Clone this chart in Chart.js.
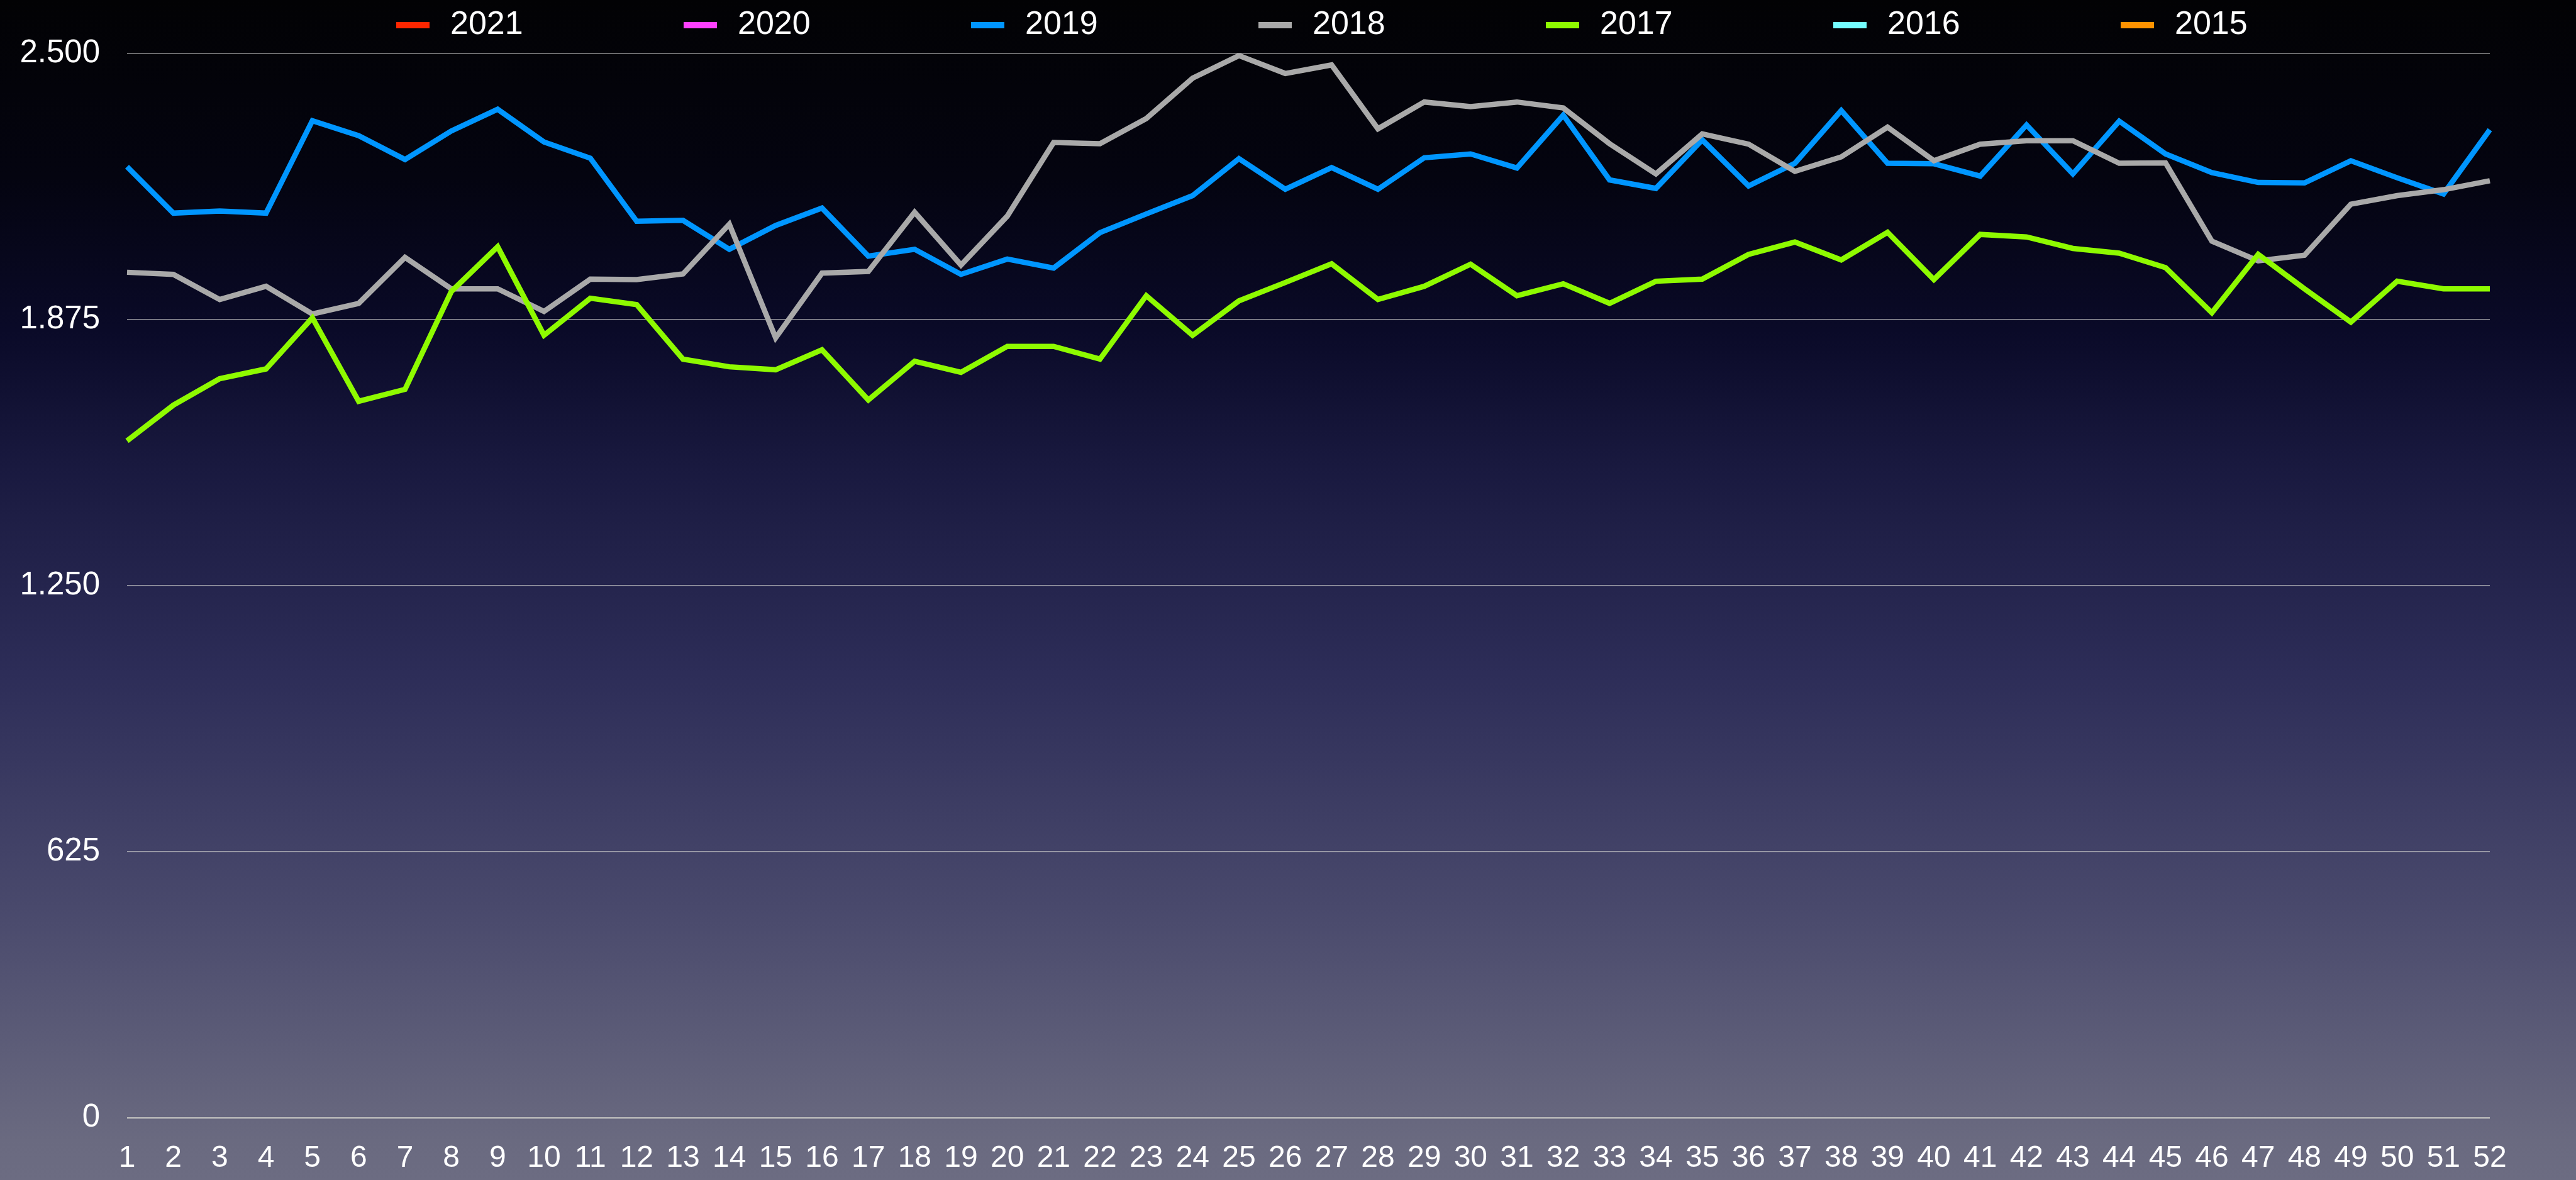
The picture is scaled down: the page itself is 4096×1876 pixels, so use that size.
<!DOCTYPE html>
<html><head><meta charset="utf-8">
<script src="https://cdn.jsdelivr.net/npm/chart.js@4/dist/chart.umd.min.js"></script>
<style>html,body{margin:0;padding:0;background:#000;overflow:hidden}canvas{display:block}</style>
</head><body>
<canvas id="c" width="4096" height="1876"></canvas>
<script>
const weeks = ['1','2','3','4','5','6','7','8','9','10','11','12','13','14','15','16','17','18','19','20','21','22','23','24','25','26','27','28','29','30','31','32','33','34','35','36','37','38','39','40','41','42','43','44','45','46','47','48','49','50','51','52'];
const yTickValues = [0, 625, 1250, 1875, 2500];
const yTickLabels = ['0', '625', '1.250', '1.875', '2.500'];
const seriesNames = ['2021', '2020', '2019', '2018', '2017', '2016', '2015'];
const seriesColors = ['#ff2600', '#ff40ff', '#0096ff', '#a9a9a9', '#8efa00', '#73fdff', '#ff9300'];

const data2021 = [];
const data2020 = [];
const data2019 = [2234,2125,2130,2125,2342,2307,2251,2318,2369,2292,2254,2106,2108,2040,2096,2137,2024,2040,1981,2017,1996,2079,2123,2166,2253,2181,2232,2181,2255,2264,2231,2355,2203,2183,2297,2189,2242,2366,2242,2241,2212,2332,2217,2341,2264,2220,2197,2196,2248,2208,2170,2321];
const data2018 = [1986,1981,1922,1953,1888,1913,2021,1947,1947,1894,1970,1969,1982,2099,1832,1984,1988,2127,2003,2118,2291,2288,2347,2442,2495,2453,2473,2323,2386,2375,2386,2372,2288,2217,2311,2287,2223,2257,2327,2248,2287,2295,2295,2242,2243,2059,2013,2026,2146,2166,2180,2201];
const data2017 = [1590,1674,1736,1759,1879,1683,1711,1941,2046,1838,1925,1910,1782,1764,1757,1804,1686,1777,1751,1812,1812,1782,1931,1838,1919,1962,2006,1922,1953,2005,1931,1959,1913,1965,1970,2028,2057,2015,2080,1969,2075,2069,2042,2031,1997,1891,2028,1947,1869,1965,1947,1947];
const data2016 = [];
const data2015 = [];
const seriesData = [data2021, data2020, data2019, data2018, data2017, data2016, data2015];

const FONT = '"Liberation Sans", Arial, Helvetica, sans-serif';

const bgPlugin = {
  id: 'bg',
  beforeDraw(chart) {
    const {ctx, width, height} = chart;
    const g = ctx.createLinearGradient(0, 0, 0, height);
    g.addColorStop(0, '#020204');
    g.addColorStop(0.15, '#040410');
    g.addColorStop(0.28, '#0a0a28');
    g.addColorStop(0.395, '#19193f');
    g.addColorStop(0.571, '#2d2d58');
    g.addColorStop(0.769, '#49496c');
    g.addColorStop(0.967, '#6a6a80');
    g.addColorStop(1, '#6c6c82');
    ctx.save();
    ctx.fillStyle = g;
    ctx.fillRect(0, 0, width, height);
    ctx.restore();
  }
};

const legendPlugin = {
  id: 'customLegend',
  afterDraw(chart) {
    const {ctx} = chart;
    const startX = 630, step = 457, cy = 40, boxW = 53, boxH = 10, gap = 33;
    ctx.save();
    ctx.font = '52px ' + FONT;
    ctx.textBaseline = 'middle';
    ctx.textAlign = 'left';
    chart.data.datasets.forEach((ds, i) => {
      const x = startX + i * step;
      ctx.fillStyle = ds.borderColor;
      ctx.fillRect(x, cy - boxH / 2, boxW, boxH);
      ctx.fillStyle = '#ffffff';
      ctx.fillText(ds.label, x + boxW + gap, cy);
    });
    ctx.restore();
  }
};

new Chart(document.getElementById('c'), {
  type: 'line',
  data: {
    labels: weeks,
    datasets: seriesNames.map((name, i) => ({
      label: name,
      data: seriesData[i],
      borderColor: seriesColors[i],
      backgroundColor: seriesColors[i],
      borderWidth: 8.5,
      pointRadius: 0,
      tension: 0,
      fill: false,
      order: -i,
      borderJoinStyle: 'miter'
    }))
  },
  options: {
    responsive: false,
    animation: false,
    devicePixelRatio: 1,
    layout: {padding: {top: 85, right: 137, left: 0, bottom: 0}},
    plugins: {legend: {display: false}, tooltip: {enabled: false}},
    scales: {
      x: {
        offset: false,
        grid: {display: false, drawTicks: false},
        border: {display: false},
        ticks: {color: '#ffffff', font: {size: 48, family: FONT}, padding: 36, maxRotation: 0, autoSkip: false},
        afterFit(s) { s.height = 99; }
      },
      y: {
        min: 0, max: 2500,
        grid: {
          drawTicks: false,
          color: ctx => ctx.tick && ctx.tick.value === 0 ? '#b8b8b8' : 'rgba(195,195,195,0.75)',
          lineWidth: ctx => ctx.tick && ctx.tick.value === 0 ? 2.5 : 1.5
        },
        border: {display: false},
        ticks: {
          stepSize: 625,
          color: '#ffffff',
          font: {size: 51, family: FONT},
          padding: 43,
          callback: v => { const k = yTickValues.indexOf(v); return k >= 0 ? yTickLabels[k] : ''; }
        },
        afterFit(s) { s.width = 202; }
      }
    }
  },
  plugins: [bgPlugin, legendPlugin]
});
</script>
</body></html>
